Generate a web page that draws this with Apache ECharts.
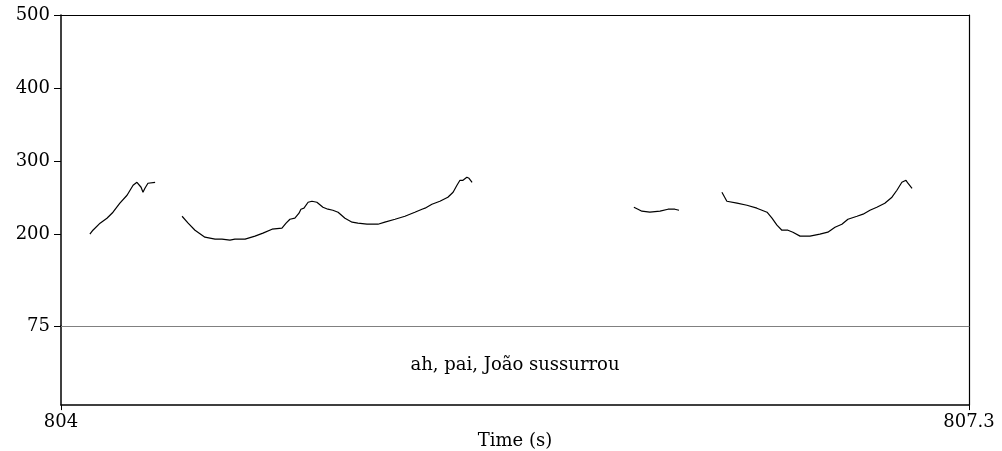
<!DOCTYPE html>
<html>
<head>
<meta charset="utf-8">
<script src="https://cdn.jsdelivr.net/npm/echarts@6/dist/echarts.min.js"></script>
<style>
  html, body { margin: 0; padding: 0; background: #fff; }
  #chart { width: 1002px; height: 451px; }
</style>
</head>
<body>
<div id="chart"></div>
<script>
// pitch contour (Hz) over time (s), one array pair per voiced stretch
var seg1Time = [804.105, 804.116, 804.142, 804.167, 804.189, 804.214, 804.240, 804.262, 804.276, 804.283, 804.291, 804.298, 804.305, 804.316, 804.323, 804.342];
var seg1Hz   = [200.5, 205.9, 215.5, 222.3, 230.5, 242.8, 253.7, 267.3, 271.4, 271.4, 264.6, 257.8, 263.2, 270.1, 271.4, 271.4];

var seg2Time = [804.440, 804.462, 804.487, 804.523, 804.560, 804.585, 804.614, 804.632, 804.669, 804.705, 804.734, 804.767, 804.803, 804.818, 804.832, 804.850, 804.865, 804.872, 804.883, 804.898, 804.912, 804.930, 804.952, 804.970, 804.988, 805.007, 805.032, 805.058, 805.079, 805.112, 805.152, 805.177, 805.214, 805.250, 805.286, 805.312, 805.323, 805.348, 805.377, 805.406, 805.425, 805.439, 805.450, 805.461, 805.475, 805.483, 805.494];
var seg2Hz   = [225.0, 215.5, 205.9, 196.4, 193.7, 193.7, 192.3, 193.7, 193.7, 197.8, 201.9, 207.3, 208.7, 215.5, 220.9, 222.3, 229.1, 234.6, 236.0, 244.1, 245.5, 244.1, 237.3, 234.6, 233.2, 230.5, 222.3, 216.9, 215.5, 214.1, 214.1, 216.9, 220.9, 225.0, 230.5, 234.6, 236.0, 241.4, 245.5, 251.0, 257.8, 267.3, 274.1, 274.1, 278.2, 276.8, 271.4];

var seg3Time = [806.082, 806.097, 806.111, 806.140, 806.177, 806.206, 806.231, 806.246];
var seg3Hz   = [237.3, 234.6, 231.9, 230.5, 231.9, 234.6, 234.6, 233.2];

var seg4Time = [806.402, 806.420, 806.457, 806.493, 806.529, 806.566, 806.584, 806.602, 806.620, 806.642, 806.660, 806.686, 806.722, 806.758, 806.787, 806.813, 806.838, 806.860, 806.893, 806.915, 806.940, 806.965, 806.994, 807.020, 807.038, 807.056, 807.071, 807.078, 807.093];
var seg4Hz   = [257.8, 245.5, 242.8, 240.0, 236.0, 230.5, 222.3, 212.8, 205.9, 205.9, 203.2, 197.8, 197.8, 200.5, 203.2, 210.0, 214.1, 220.9, 225.0, 227.8, 233.2, 237.3, 242.8, 251.0, 260.5, 271.4, 274.1, 270.1, 263.2];

var hzTicks = [75, 200, 300, 400, 500];
var timeTicks = [804, 807.3];
var tierText = 'ah, pai, João sussurrou';
var tierMid = [805.65];

var FONT = 'DejaVu Serif';
var FS = 18;

function pairs(t, v) {
    return t.map(function (x, i) { return [x, v[i]]; });
}

var chart = echarts.init(document.getElementById('chart'));
var option;

option = {
    animation: false,
    backgroundColor: '#fff',
    grid: [
        { left: 61, right: 33, top: 15, height: 311 },   // pitch
        { left: 61, right: 33, top: 326, height: 80 }    // text tier
    ],
    xAxis: [
        {
            // bottom of pitch area = the grey 75 Hz line
            gridIndex: 0, type: 'value', min: 804, max: 807.3, position: 'bottom',
            axisLine: { show: true, onZero: false, lineStyle: { color: '#808080', width: 1 } },
            axisTick: { show: false }, axisLabel: { show: false }, splitLine: { show: false }
        },
        {
            // top border
            gridIndex: 0, type: 'value', min: 804, max: 807.3, position: 'top',
            axisLine: { show: true, onZero: false, lineStyle: { color: '#000', width: 1.2 } },
            axisTick: { show: false }, axisLabel: { show: false }, splitLine: { show: false }
        },
        {
            gridIndex: 1, type: 'value', min: 804, max: 807.3, position: 'bottom',
            name: 'Time (s)', nameLocation: 'middle', nameGap: 26,
            nameTextStyle: { fontFamily: FONT, fontSize: FS, color: '#000' },
            axisLine: { show: true, onZero: false, lineStyle: { color: '#000', width: 1.5 } },
            axisTick: { show: true, length: 5, customValues: timeTicks, lineStyle: { color: '#000' } },
            axisLabel: {
                show: true, customValues: timeTicks, margin: 8,
                fontFamily: FONT, fontSize: FS, color: '#000',
                formatter: function (v) { return String(v); }
            },
            splitLine: { show: false }
        }
    ],
    yAxis: [
        {
            gridIndex: 0, type: 'value', min: 75, max: 500, position: 'left',
            axisLine: { show: true, onZero: false, lineStyle: { color: '#000', width: 1.5 } },
            axisTick: { show: true, length: 7, customValues: hzTicks, lineStyle: { color: '#000' } },
            axisLabel: {
                show: true, customValues: hzTicks, margin: 11,
                fontFamily: FONT, fontSize: FS, color: '#000'
            },
            splitLine: { show: false }
        },
        {
            // right border of pitch area
            gridIndex: 0, type: 'value', min: 75, max: 500, position: 'right',
            axisLine: { show: true, onZero: false, lineStyle: { color: '#000', width: 1.2 } },
            axisTick: { show: false }, axisLabel: { show: false }, splitLine: { show: false }
        },
        {
            gridIndex: 1, type: 'value', min: 0, max: 1, position: 'left',
            axisLine: { show: true, onZero: false, lineStyle: { color: '#000', width: 1.5 } },
            axisTick: { show: false }, axisLabel: { show: false }, splitLine: { show: false }
        },
        {
            gridIndex: 1, type: 'value', min: 0, max: 1, position: 'right',
            axisLine: { show: true, onZero: false, lineStyle: { color: '#000', width: 1.2 } },
            axisTick: { show: false }, axisLabel: { show: false }, splitLine: { show: false }
        }
    ],
    series: [
        [seg1Time, seg1Hz], [seg2Time, seg2Hz], [seg3Time, seg3Hz], [seg4Time, seg4Hz]
    ].map(function (s) {
        return {
            type: 'line', xAxisIndex: 0, yAxisIndex: 0,
            data: pairs(s[0], s[1]),
            showSymbol: false, symbol: 'none',
            lineStyle: { color: '#000', width: 1.2 }
        };
    }).concat([
        {
            type: 'scatter', xAxisIndex: 2, yAxisIndex: 2,
            data: [[tierMid[0], 0.5]],
            symbolSize: 0,
            itemStyle: { opacity: 1, color: '#000' },
            label: {
                show: true, position: 'inside',
                formatter: tierText,
                fontFamily: FONT, fontSize: FS, color: '#000'
            },
            silent: true
        }
    ])
};

option && chart.setOption(option);
</script>
</body>
</html>
